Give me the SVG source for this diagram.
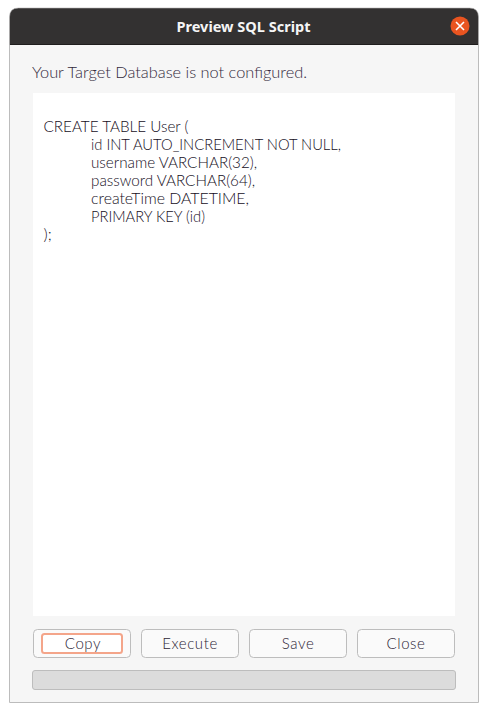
<svg xmlns="http://www.w3.org/2000/svg" width="488" height="712" viewBox="0 0 488 712">
<style>
.t{font-family:"Lato","Noto Sans","Liberation Sans",sans-serif;fill:#3d3546;font-weight:300}
.m{font-size:16px;fill:#33293c}
.c{font-size:16px;letter-spacing:0;fill:#150e1c}
.b{font-size:15px;text-anchor:middle;letter-spacing:.6px;fill:#2c2436}
.btn{fill:#fafafa;stroke:#bdbdbd;stroke-width:1}
</style>
<rect width="488" height="712" fill="#fff"/>
<g id="window">
<path d="M9.5 44.5H478.5V702.5H9.5Z" fill="#f6f6f6" stroke="#bcbcbc"/>
<path d="M9.5 44.5V17Q9.5 8 18.5 8H469.5Q478.5 8 478.5 17V44.5Z" fill="#333131" stroke="#b5b3b3" stroke-width=".6"/>
<rect x="10" y="44" width="468" height="1" fill="#1f1d1d"/>
<text x="243.5" y="32" font-family="'Noto Sans','Open Sans',sans-serif" font-size="15" font-weight="700" fill="#f5f5f5" text-anchor="middle" textLength="134" lengthAdjust="spacingAndGlyphs">Preview SQL Script</text>
</g>
<g id="close-button">
<circle cx="460" cy="26" r="9.5" fill="#e95420"/>
<path d="M456 22L464 30M464 22L456 30" stroke="#fff" stroke-width="1.6" fill="none"/>
</g>
<g id="status"><text class="t m" x="32" y="78" textLength="275" lengthAdjust="spacingAndGlyphs">Your Target Database is not configured.</text></g>
<g id="script">
<rect x="33" y="93" width="422" height="523" fill="#fff"/>
<text class="t c" x="43.5" y="132" textLength="145" lengthAdjust="spacingAndGlyphs">CREATE TABLE User (</text>
<text class="t c" x="91" y="150" textLength="250" lengthAdjust="spacingAndGlyphs">id INT AUTO_INCREMENT NOT NULL,</text>
<text class="t c" x="91" y="168" textLength="166" lengthAdjust="spacingAndGlyphs">username VARCHAR(32),</text>
<text class="t c" x="91" y="186" textLength="164" lengthAdjust="spacingAndGlyphs">password VARCHAR(64),</text>
<text class="t c" x="91" y="204" textLength="158" lengthAdjust="spacingAndGlyphs">createTime DATETIME,</text>
<text class="t c" x="91" y="222" textLength="114" lengthAdjust="spacingAndGlyphs">PRIMARY KEY (id)</text>
<text class="t c" x="43.5" y="240">);</text>
</g>
<g id="copy"><rect class="btn" x="33.5" y="629.5" width="97" height="28" rx="4"/><rect x="42" y="634" width="80" height="19" rx="2.5" fill="#fff" stroke="#f4a58a" stroke-width="2"/><text class="t b" x="83" y="649">Copy</text></g>
<g id="execute"><rect class="btn" x="141.5" y="629.5" width="97" height="28" rx="4"/><text class="t b" x="190" y="649">Execute</text></g>
<g id="save"><rect class="btn" x="249.5" y="629.5" width="97" height="28" rx="4"/><text class="t b" x="298" y="649">Save</text></g>
<g id="close"><rect class="btn" x="357.5" y="629.5" width="97" height="28" rx="4"/><text class="t b" x="406" y="649">Close</text></g>
<g id="progress"><rect x="32.5" y="670.5" width="423" height="19" rx="2.5" fill="#dcdcdc" stroke="#bdbdbd"/></g>
</svg>
